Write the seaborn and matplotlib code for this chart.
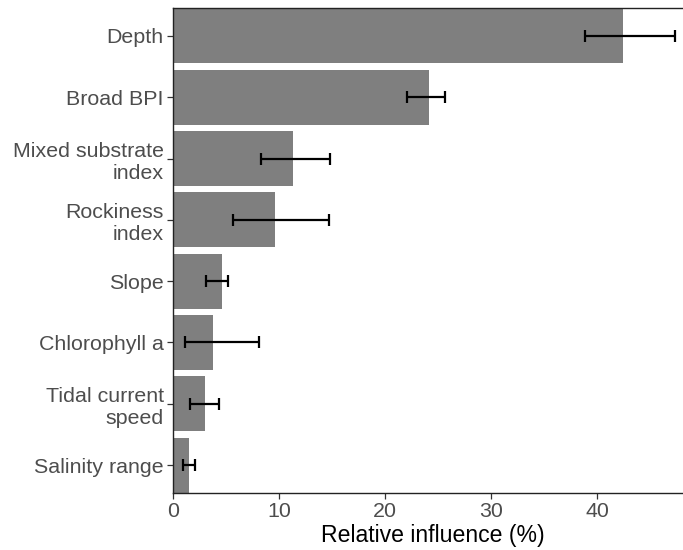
import matplotlib
matplotlib.use("Agg")
import matplotlib.pyplot as plt
import seaborn as sns
import pandas as pd

variables = ["Depth", "Broad BPI", "Mixed substrate\nindex", "Rockiness\nindex",
             "Slope", "Chlorophyll a", "Tidal current\nspeed", "Salinity range"]
influence = [42.4, 24.1, 11.3, 9.6, 4.6, 3.8, 3.0, 1.5]
lower = [38.85, 22.07, 8.32, 5.71, 3.17, 1.16, 1.63, 1.0]
upper = [47.27, 25.68, 14.85, 14.69, 5.21, 8.16, 4.39, 2.07]

df = pd.DataFrame({"variable": variables, "influence": influence,
                   "lower": lower, "upper": upper})

sns.set_theme(style="white")
plt.rcParams["font.family"] = ["Liberation Sans", "DejaVu Sans"]

fig = plt.figure(figsize=(6.83, 5.5), dpi=100)
ax = fig.add_axes([172.7 / 683, 1 - 492.7 / 550, (693 - 172.7) / 683, (492.7 - 8.3) / 550])

sns.barplot(data=df, x="influence", y="variable", order=variables, color="#7f7f7f",
            saturation=1, width=0.9, ax=ax, errorbar=None, edgecolor="none")

ypos = list(range(len(variables)))
xerr = [[i - lo for i, lo in zip(influence, lower)], [up - i for i, up in zip(influence, upper)]]
ax.errorbar(influence, ypos, xerr=xerr, fmt="none", ecolor="black",
            elinewidth=1.6, capsize=4.2, capthick=1.6, zorder=5)

ax.set_xlim(0, 49)
ax.set_ylim(len(variables) - 0.55, -0.45)
ax.set_xticks([0, 10, 20, 30, 40])
ax.set_xlabel("Relative influence (%)", fontsize=16.6, color="black", labelpad=2)
ax.set_ylabel("")

for s in ["left", "bottom", "top"]:
    ax.spines[s].set_visible(True)
    ax.spines[s].set_color("#222222")
    ax.spines[s].set_linewidth(1.0)
ax.spines["right"].set_visible(False)

ax.tick_params(axis="both", which="both", length=4, width=0.9, color="#333333",
               labelsize=15.4, labelcolor="#4d4d4d", pad=2.5,
               left=True, bottom=True)
for lab in ax.get_yticklabels():
    lab.set_linespacing(1.2)
    lab.set_horizontalalignment("right")
    lab.set_multialignment("right")

fig.savefig("out.png", dpi=100)
